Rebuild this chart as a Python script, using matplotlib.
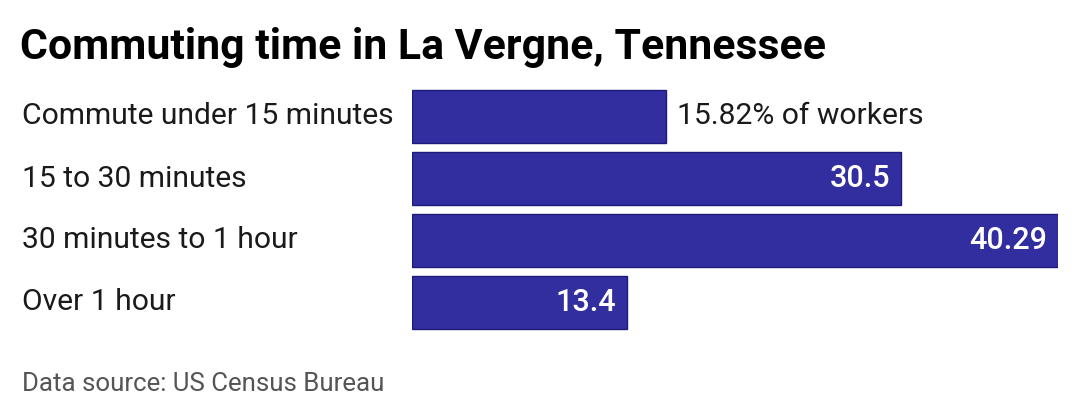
import matplotlib
matplotlib.use("Agg")
import matplotlib.pyplot as plt

categories = ["Commute under 15 minutes", "15 to 30 minutes", "30 minutes to 1 hour", "Over 1 hour"]
values = [15.82, 30.5, 40.29, 13.4]
value_labels = ["15.82% of workers", "30.5", "40.29", "13.4"]
title = "Commuting time in La Vergne, Tennessee"
source = "Data source: US Census Bureau"

plt.rcParams['font.family'] = ['Roboto', 'DejaVu Sans']

W, H = 1080, 420
fig = plt.figure(figsize=(W / 100, H / 100), dpi=100)
fig.patch.set_facecolor("white")

ax_l, ax_r = 412 / W, 1058 / W
ax_top, ax_bot = 80, 340
ax = fig.add_axes([ax_l, 1 - ax_bot / H, ax_r - ax_l, (ax_bot - ax_top) / H])
ypos = list(range(len(categories)))
ax.barh(ypos, values, height=53 / 62, color="#332ea0", edgecolor="#1c1a7a", linewidth=1)
ax.set_xlim(0, max(values))
ax.set_ylim(3 + (ax_bot - 302.5) / 62, -(116.5 - ax_top) / 62)
ax.axis("off")

for i, (v, lab) in enumerate(zip(values, value_labels)):
    if i == 0:
        ax.annotate(lab, (v, i), xytext=(8, 0), textcoords="offset points",
                    ha="left", va="center", fontsize=21.6, color="#1a1a1a")
    else:
        ax.annotate(lab, (v, i), xytext=(-8, 0), textcoords="offset points",
                    ha="right", va="center", fontsize=22, color="white", fontweight="medium")
    fig.text(22 / W, 1 - (116.5 + 62 * i) / H, categories[i], ha="left", va="center",
             fontsize=21.6, color="#1a1a1a")

fig.text(20 / W, 1 - 47 / H, title, ha="left", va="center", fontsize=30.8,
         fontweight="bold", color="black")
fig.text(22 / W, 1 - 384 / H, source, ha="left", va="center", fontsize=18.6, color="#555555")

fig.savefig("out.png", dpi=100)
